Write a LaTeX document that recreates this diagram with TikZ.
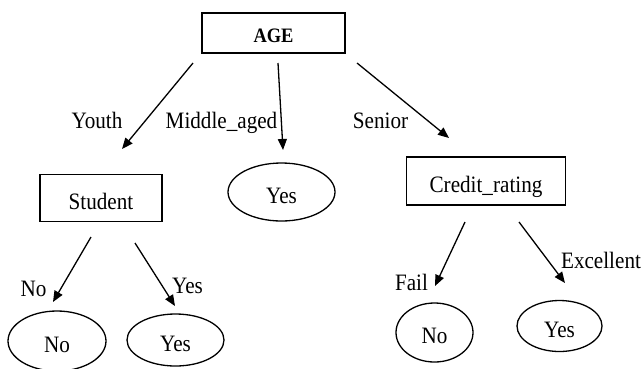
\documentclass[tikz,border=0pt]{standalone}
\usepackage{fontspec}
\setmainfont[FakeStretch=0.9]{Liberation Serif}
\usetikzlibrary{shapes.geometric,arrows.meta}
\begin{document}
\begin{tikzpicture}[x=1pt,y=-1pt,
  txt/.style={text height=24.7pt,text depth=2.4pt},
  boxnode/.style={draw,line width=1.6pt,inner sep=0pt,txt,font=\fontsize{23.5}{28}\selectfont},
  leaf/.style={draw,ellipse,line width=1.3pt,inner sep=0pt,txt,font=\fontsize{23.5}{28}\selectfont},
  lbl/.style={anchor=base,inner sep=0pt,font=\fontsize{23.5}{28}\selectfont},
  arr/.style={line width=1.3pt,-{Triangle[length=11pt,width=9pt]}}]
\useasboundingbox (0,0) rectangle (644,368);
% nodes
\node[boxnode,minimum width=143pt,minimum height=40pt,text height=21.5pt,text depth=2pt,font=\fontsize{20.5}{24}\selectfont\bfseries] (age) at (273.5,33) {AGE};
\node[boxnode,minimum width=122pt,minimum height=47pt] (student) at (101,198) {Student};
\node[leaf,minimum width=107pt,minimum height=58pt] (midyes) at (281.5,192) {Yes};
\node[boxnode,minimum width=159pt,minimum height=48pt] (credit) at (486,181) {Credit\_rating};
\node[leaf,minimum width=98pt,minimum height=60pt] (sno) at (57,341) {No};
\node[leaf,minimum width=97pt,minimum height=52pt] (syes) at (175.5,340) {Yes};
\node[leaf,minimum width=77pt,minimum height=59pt] (cno) at (434.5,332.5) {No};
\node[leaf,minimum width=85pt,minimum height=51pt] (cyes) at (559.5,326) {Yes};
% labels
\node[lbl] (lyouth) at (97,128.5) {Youth};
\node[lbl] (lmid) at (221.5,128.5) {Middle\_aged};
\node[lbl] (lsen) at (380.5,128.5) {Senior};
\node[lbl] (lno) at (33.5,296) {No};
\node[lbl] (lyes) at (187.5,293) {Yes};
\node[lbl] (lfail) at (411.5,290) {Fail};
\node[lbl] (lexc) at (601,268) {Excellent};
% connector end points
\coordinate (a1s) at (193,63);   \coordinate (a1e) at (122,149);
\coordinate (a2s) at (278,63);   \coordinate (a2e) at (283,150);
\coordinate (a3s) at (357,63);   \coordinate (a3e) at (449,138);
\coordinate (b1s) at (91,237);   \coordinate (b1e) at (53,302);
\coordinate (b2s) at (135,243);  \coordinate (b2e) at (175,306);
\coordinate (c1s) at (465,222);  \coordinate (c1e) at (435,286);
\coordinate (c2s) at (519,222);  \coordinate (c2e) at (565,283);
% connectors
\draw[arr] (a1s) -- (a1e);
\draw[arr] (a2s) -- (a2e);
\draw[arr] (a3s) -- (a3e);
\draw[arr] (b1s) -- (b1e);
\draw[arr] (b2s) -- (b2e);
\draw[arr] (c1s) -- (c1e);
\draw[arr] (c2s) -- (c2e);
\end{tikzpicture}
\end{document}
